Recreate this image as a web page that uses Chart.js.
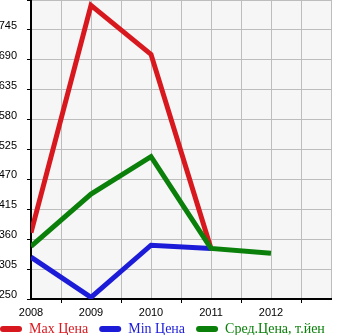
<!DOCTYPE html>
<html>
<head>
<meta charset="utf-8">
<script src="https://cdn.jsdelivr.net/npm/chart.js@4"></script>
<style>
  html, body { margin: 0; padding: 0; background: #fff; }
  #wrap { width: 345px; height: 335px; }
</style>
</head>
<body>
<div id="wrap"><canvas id="c"></canvas></div>
<script>
// ─── Data ──────────────────────────────────────────────────────────────────
const years     = [2008, 2009, 2010, 2011, 2012];
const maxPrice  = [372, 790, 700, 343, null];
const minPrice  = [327, 253, 349, 343, null];
const avgPrice  = [347, 443, 512, 343, 334];

const seriesLabels = ["Max Цена", "Min Цена", "Сред.Цена, т.йен"];
const seriesColors = ["#d7191f", "#1c1cd8", "#0a800a"];

const yMin = 250, yMax = 800, yStep = 55;
const xMin = 2008, xMax = 2013;

function pts(values) {
  return years.map((y, i) => ({ x: y, y: values[i] }));
}

// Light grey fill behind the plot area
const plotBg = {
  id: "plotBg",
  beforeDraw(chart) {
    const { ctx, chartArea: a } = chart;
    ctx.save();
    ctx.fillStyle = "#f6f6f6";
    ctx.fillRect(a.left, a.top, a.right - a.left, a.bottom - a.top);
    ctx.restore();
  },
};

// Legend sits tight under the axis labels and starts at the left edge
const legendPlace = {
  id: "legendPlace",
  beforeLayout(chart) {
    const lg = chart.legend;
    if (lg && !lg._fitPatched) {
      const fit = lg.fit;
      lg.fit = function () { fit.call(this); this.height = 16; };
      lg._fitPatched = true;
    }
  },
  afterLayout(chart) {
    const lg = chart.legend;
    if (!lg) return;
    lg.top = 311;
    lg.left = -11;
  },
};

const SERIF = "'Liberation Serif', 'DejaVu Serif', serif";
const SANS = "'Liberation Sans', Arial, sans-serif";

new Chart(document.getElementById("c"), {
  type: "line",
  data: {
    datasets: [maxPrice, minPrice, avgPrice].map((vals, i) => ({
      label: seriesLabels[i],
      data: pts(vals),
      borderColor: seriesColors[i],
      backgroundColor: seriesColors[i],
      borderWidth: 5,
      pointRadius: 0,
      tension: 0,
      fill: false,
      spanGaps: false,
      order: 3 - i,
    })),
  },
  options: {
    responsive: true,
    maintainAspectRatio: false,
    animation: false,
    layout: { padding: 0 },
    plugins: {
      legend: {
        display: true,
        position: "bottom",
        align: "start",
        labels: {
          font: { family: SERIF, size: 14 },
          boxWidth: 22,
          boxHeight: 6,
          padding: 11,
          useBorderRadius: true,
          borderRadius: 3,
          generateLabels(chart) {
            return chart.data.datasets.map((ds, i) => ({
              text: ds.label,
              fillStyle: seriesColors[i],
              strokeStyle: seriesColors[i],
              lineWidth: 0,
              fontColor: seriesColors[i],
              borderRadius: 3,
              datasetIndex: i,
            }));
          },
        },
      },
      tooltip: { enabled: false },
    },
    scales: {
      x: {
        type: "linear",
        min: xMin,
        max: xMax,
        afterFit(scale) {
          scale.height = 20;
          scale.paddingLeft = 0;
          scale.paddingRight = 0;
        },
        border: { display: true, color: "#000", width: 2 },
        grid: {
          color: "#bdbdbd",
          lineWidth: 1,
          tickLength: 4,
          tickColor: (c) => (Number.isInteger(c.tick.value) ? "rgba(0,0,0,0)" : "#000"),
        },
        ticks: {
          stepSize: 0.5,
          autoSkip: false,
          maxRotation: 0,
          padding: 3,
          color: "#000",
          font: { family: SANS, size: 11 },
          callback: (v) => (Number.isInteger(v) && v < xMax ? String(v) : ""),
        },
      },
      y: {
        min: yMin,
        max: yMax,
        afterFit(scale) {
          scale.width = 31;
          scale.paddingTop = 0;
          scale.paddingBottom = 0;
        },
        border: { display: true, color: "#000", width: 2 },
        grid: { color: "#bdbdbd", lineWidth: 1, tickLength: 4, tickColor: "#000" },
        ticks: {
          stepSize: yStep,
          padding: 10,
          labelOffset: -4,
          color: "#000",
          font: { family: SANS, size: 11 },
          callback: (v) => (v >= yMax ? "" : String(v)),
        },
      },
      // empty right-hand strip so the plot stops short of the canvas edge
      yRight: {
        position: "right",
        display: true,
        min: yMin,
        max: yMax,
        afterFit(scale) {
          scale.width = 14;
          scale.paddingTop = 0;
          scale.paddingBottom = 0;
        },
        border: { display: false },
        grid: { display: false, drawTicks: false },
        ticks: { display: false },
      },
    },
  },
  plugins: [plotBg, legendPlace],
});
</script>
</body>
</html>
